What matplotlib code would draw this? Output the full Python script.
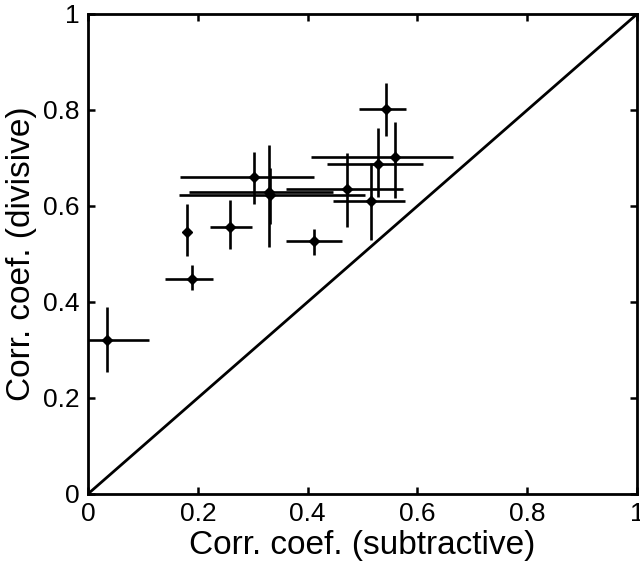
import numpy as np
import matplotlib
matplotlib.use("Agg")
import matplotlib.pyplot as plt

# Correlation coefficients, subtractive (x) vs divisive (y) model, with error bounds
x_sub = [0.035, 0.181, 0.190, 0.259, 0.302, 0.329, 0.332, 0.412, 0.471, 0.515, 0.528, 0.542, 0.559]
x_lo = [0.000, 0.178, 0.141, 0.223, 0.167, 0.184, 0.165, 0.361, 0.361, 0.447, 0.436, 0.493, 0.407]
x_hi = [0.111, 0.184, 0.227, 0.299, 0.411, 0.446, 0.504, 0.463, 0.574, 0.577, 0.610, 0.580, 0.664]

y_div = [0.321, 0.545, 0.447, 0.556, 0.661, 0.630, 0.623, 0.526, 0.635, 0.610, 0.687, 0.803, 0.701]
y_lo = [0.255, 0.496, 0.424, 0.510, 0.604, 0.515, 0.563, 0.498, 0.556, 0.529, 0.619, 0.746, 0.616]
y_hi = [0.389, 0.604, 0.477, 0.613, 0.712, 0.728, 0.679, 0.552, 0.710, 0.690, 0.762, 0.856, 0.774]

ticks = [0, 0.2, 0.4, 0.6, 0.8, 1]
tick_labels = ["0", "0.2", "0.4", "0.6", "0.8", "1"]

plt.rcParams["font.family"] = ["Liberation Sans", "DejaVu Sans"]

x = np.array(x_sub)
y = np.array(y_div)
xerr = np.vstack([x - np.array(x_lo), np.array(x_hi) - x])
yerr = np.vstack([y - np.array(y_lo), np.array(y_hi) - y])

fig = plt.figure(figsize=(6.4, 5.71), dpi=100)
ax = fig.add_axes([0.1375, 0.135, 0.858, 0.8405])

# unity line
ax.plot([0, 1], [0, 1], color="black", linewidth=2, zorder=1)

ax.errorbar(x, y, xerr=xerr, yerr=yerr, fmt="D", color="black",
            markersize=5.5, elinewidth=1.9, capsize=0, zorder=3)

ax.set_xlim(0, 1)
ax.set_ylim(0, 1)
ax.set_xticks(ticks)
ax.set_xticklabels(tick_labels)
ax.set_yticks(ticks)
ax.set_yticklabels(tick_labels)
ax.tick_params(direction="in", length=5, width=1.8, top=True, right=True,
               labelsize=19, pad=6)
for s in ax.spines.values():
    s.set_linewidth(2)

ax.set_xlabel("Corr. coef. (subtractive)", fontsize=24, labelpad=3)
ax.set_ylabel("Corr. coef. (divisive)", fontsize=24, labelpad=4)

fig.savefig("out.png", dpi=100)
